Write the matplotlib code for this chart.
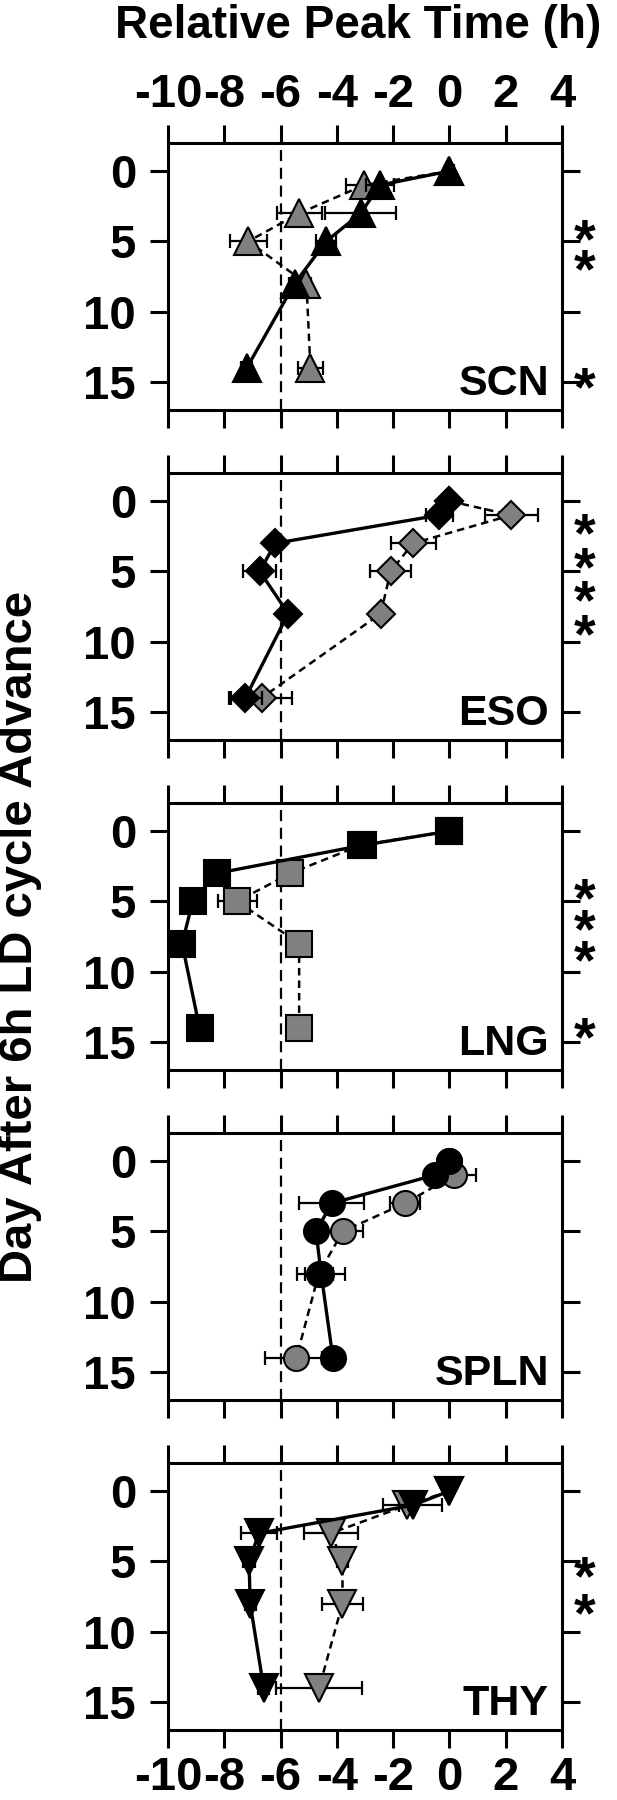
import matplotlib
matplotlib.use('Agg')
import matplotlib.pyplot as plt
import matplotlib.transforms as mtransforms

plt.rcParams['font.family'] = ['Liberation Sans', 'DejaVu Sans']
plt.rcParams['font.weight'] = 'bold'
plt.rcParams['axes.unicode_minus'] = False

days = [0, 1, 3, 5, 8, 14]
x_ticks = [-10, -8, -6, -4, -2, 0, 2, 4]
y_ticks = [0, 5, 10, 15]

# black symbols (solid line) and grey symbols (dashed line), peak time in h
# stars: groups of stacked significance marks, by day
scn_black = [0, -2.48, -3.15, -4.38, -5.5, -7.2]
scn_black_err = [0.15, 0.5, 1.26, 0.35, 0.2, 0.2]
scn_grey = [0, -3.04, -5.33, -7.15, -5.08, -4.94]
scn_grey_err = [0.1, 0.63, 0.8, 0.66, 0.15, 0.45]
scn_stars = [[4.1, 6.0], [14.4]]

eso_black = [0, -0.36, -6.19, -6.74, -5.73, -7.25]
eso_black_err = [0.1, 0.49, 0.2, 0.59, 0.2, 0.6]
eso_grey = [0, 2.2, -1.29, -2.09, -2.44, -6.67]
eso_grey_err = [0.1, 0.94, 0.8, 0.74, 0.1, 1.08]
eso_stars = [[1.5, 3.85, 6.2, 8.5]]

lng_black = [0, -3.06, -8.27, -9.12, -9.5, -8.88]
lng_black_err = [0.1, 0.2, 0.2, 0.2, 0.2, 0.2]
lng_grey = [0, -3.15, -5.65, -7.54, -5.34, -5.34]
lng_grey_err = [0.1, 0.1, 0.1, 0.7, 0.1, 0.1]
lng_stars = [[4.1, 6.15, 8.2], [13.7]]

spln_black = [0, -0.53, -4.18, -4.74, -4.56, -4.14]
spln_black_err = [0.1, 0.3, 1.16, 0.3, 0.84, 0.4]
spln_grey = [0, 0.18, -1.58, -3.79, -4.64, -5.44]
spln_grey_err = [0.1, 0.77, 0.53, 0.73, 0.5, 1.12]
spln_stars = []

thy_black = [0, -1.3, -6.77, -7.12, -7.08, -6.6]
thy_black_err = [0.1, 1.05, 0.63, 0.2, 0.2, 0.2]
thy_grey = [0, -1.5, -4.21, -3.8, -3.8, -4.63]
thy_grey_err = [0.1, 0.3, 0.95, 0.2, 0.74, 1.54]
thy_stars = [[5.0, 7.7]]

panels = [
    ('SCN', '^', 20, scn_black, scn_black_err, scn_grey, scn_grey_err, scn_stars),
    ('ESO', 'D', 14.5, eso_black, eso_black_err, eso_grey, eso_grey_err, eso_stars),
    ('LNG', 's', 19, lng_black, lng_black_err, lng_grey, lng_grey_err, lng_stars),
    ('SPLN', 'o', 18, spln_black, spln_black_err, spln_grey, spln_grey_err, spln_stars),
    ('THY', 'v', 20, thy_black, thy_black_err, thy_grey, thy_grey_err, thy_stars),
]

W, H = 617, 1800
fig = plt.figure(figsize=(W / 100, H / 100), dpi=100)

left, right = 168, 562
top0, pitch, ph = 143, 330, 267
ylo, yhi = -2, 17
fs_tick = 34
star_fs = 40
px_per_day = ph / (yhi - ylo)

# line step of a two-line asterisk text at linespacing 1, in pixels
renderer = fig.canvas.get_renderer()
t1 = fig.text(0, 0, '*', fontsize=star_fs, fontweight='bold')
t2 = fig.text(0, 0, '*\n*', fontsize=star_fs, fontweight='bold')
step1 = (t2.get_window_extent(renderer).height
         - t1.get_window_extent(renderer).height)
t1.remove()
t2.remove()

for i, (name, mk, ms, yb, yb_err, yg, yg_err, stars) in enumerate(panels):
    top = top0 + pitch * i
    ax = fig.add_axes([left / W, 1 - (top + ph) / H, (right - left) / W, ph / H])

    ax.axvline(-6, color='black', lw=1.6, ls=(0, (5, 3)), zorder=1)

    ax.errorbar(yg, days, xerr=yg_err, fmt='none', ecolor='black',
                elinewidth=1.6, capsize=5, capthick=1.6, zorder=2)
    ax.plot(yg, days, color='black', lw=1.8, ls=(0, (3, 2)),
            marker=mk, ms=ms, mfc='#808080', mec='black', mew=1.5, zorder=3)
    ax.errorbar(yb, days, xerr=yb_err, fmt='none', ecolor='black',
                elinewidth=1.6, capsize=5, capthick=1.6, zorder=4)
    ax.plot(yb, days, color='black', lw=2.4, ls='-',
            marker=mk, ms=ms, mfc='black', mec='black', mew=1.5, zorder=5)

    ax.set_xlim(-10, 4)
    ax.set_ylim(yhi, ylo)
    ax.set_xticks(x_ticks)
    ax.set_yticks(y_ticks)
    for sp in ax.spines.values():
        sp.set_linewidth(2.2)
    ax.tick_params(axis='both', direction='out', length=13, width=2.2,
                   labelsize=fs_tick)
    ax.tick_params(axis='x', top=True, bottom=True, pad=6,
                   labeltop=(i == 0), labelbottom=(i == len(panels) - 1))
    ax.tick_params(axis='y', left=True, right=True, pad=10,
                   labelleft=True, labelright=False)

    ax.text(0.967, 0.056, name, transform=ax.transAxes, ha='right',
            va='baseline', fontsize=31, fontweight='bold')

    # stacked asterisks to the right of the panel, one text per group,
    # anchored on the baseline of the last line
    trans = mtransforms.blended_transform_factory(ax.transAxes, ax.transData)
    for grp in stars:
        ls = 1.0
        if len(grp) > 1:
            step = (grp[-1] - grp[0]) / (len(grp) - 1)
            ls = step * px_per_day / step1
        ax.annotate('\n'.join('*' * len(grp)), xy=(1.058, grp[-1]),
                    xycoords=trans,
                    xytext=(0, -0.575 * star_fs), textcoords='offset points',
                    ha='center', va='baseline', fontsize=star_fs,
                    fontweight='bold', linespacing=ls, annotation_clip=False)

fig.text(0.58, 1 - 38 / H, 'Relative Peak Time (h)', ha='center',
         va='baseline', fontsize=33, fontweight='bold')
fig.text(20 / W, 1 - 937 / H, 'Day After 6h LD cycle Advance', ha='center',
         va='center', rotation=90, fontsize=34, fontweight='bold')

fig.savefig('out.png', dpi=100)
